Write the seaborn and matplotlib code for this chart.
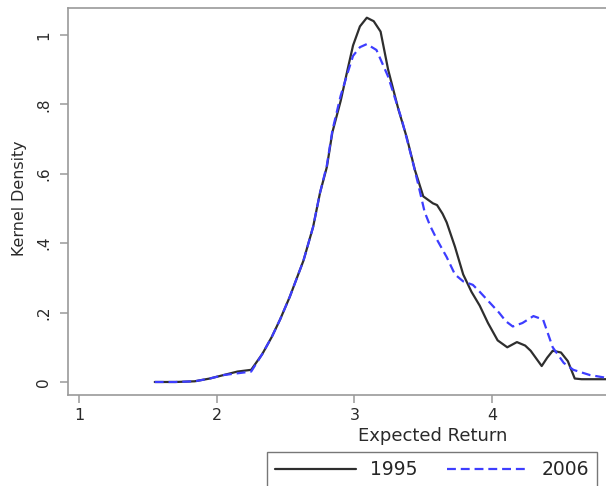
import matplotlib
matplotlib.use("Agg")
import matplotlib.pyplot as plt
from matplotlib.lines import Line2D
import seaborn as sns
import pandas as pd

# ---- data ----
x_1995 = [1.55, 1.70, 1.84, 1.95, 2.05, 2.15, 2.25, 2.33, 2.40, 2.46, 2.53, 2.63, 2.70, 2.75,
          2.80, 2.84, 2.90, 2.95, 2.99, 3.04, 3.09, 3.14, 3.19, 3.245, 3.32, 3.38, 3.44, 3.50,
          3.57, 3.60, 3.64, 3.67, 3.73, 3.79, 3.85, 3.91, 3.97, 4.04, 4.11, 4.18, 4.24, 4.28,
          4.36, 4.40, 4.44, 4.50, 4.55, 4.60, 4.65, 4.83]
y_1995 = [0.0, 0.0, 0.002, 0.01, 0.02, 0.03, 0.035, 0.08, 0.13, 0.18, 0.245, 0.35, 0.447, 0.545,
          0.62, 0.72, 0.81, 0.90, 0.97, 1.025, 1.05, 1.04, 1.01, 0.90, 0.785, 0.705, 0.61, 0.535,
          0.515, 0.51, 0.485, 0.46, 0.39, 0.31, 0.26, 0.22, 0.17, 0.12, 0.10, 0.115, 0.105, 0.09,
          0.046, 0.07, 0.09, 0.085, 0.06, 0.01, 0.008, 0.008]

x_2006 = [1.55, 1.70, 1.84, 1.95, 2.05, 2.15, 2.25, 2.33, 2.40, 2.46, 2.53, 2.63, 2.70, 2.75,
          2.80, 2.84, 2.90, 2.95, 2.99, 3.04, 3.09, 3.16, 3.245, 3.345, 3.42, 3.46, 3.51, 3.55,
          3.60, 3.67, 3.73, 3.79, 3.86, 3.91, 3.98, 4.05, 4.10, 4.15, 4.22, 4.30, 4.37, 4.44,
          4.52, 4.59, 4.71, 4.83]
y_2006 = [0.0, 0.0, 0.002, 0.01, 0.02, 0.025, 0.03, 0.08, 0.13, 0.18, 0.245, 0.35, 0.447, 0.545,
          0.625, 0.725, 0.825, 0.89, 0.94, 0.965, 0.974, 0.957, 0.88, 0.755, 0.64, 0.575, 0.49,
          0.45, 0.41, 0.36, 0.31, 0.29, 0.28, 0.26, 0.23, 0.20, 0.175, 0.16, 0.17, 0.19, 0.18,
          0.10, 0.055, 0.035, 0.02, 0.012]

series_names = ["1995", "2006"]
x_ticks = [1, 2, 3, 4]
y_ticks = [0, 0.2, 0.4, 0.6, 0.8, 1.0]
y_tick_labels = ["0", ".2", ".4", ".6", ".8", "1"]

df = pd.concat([
    pd.DataFrame({"x": x_1995, "y": y_1995, "year": series_names[0]}),
    pd.DataFrame({"x": x_2006, "y": y_2006, "year": series_names[1]}),
])

sns.set_style("white")
plt.rcParams["font.family"] = ["DejaVu Sans"]

W, H = 606, 486
fig = plt.figure(figsize=(W / 100, H / 100), dpi=100)
ax = fig.add_axes([68 / W, 1 - 395 / H, 1 - 68 / W, (395 - 8) / H])

black = "#2e2e2e"
blue = "#3d3dff"
sns.lineplot(data=df, x="x", y="y", hue="year", style="year",
             palette={"1995": black, "2006": blue},
             dashes={"1995": "", "2006": (4, 2.2)},
             linewidth=1.6, ax=ax, legend=False, sort=False)

ax.set_xlim(0.92, 4.827)
ax.set_ylim(-0.0375, 1.078)
ax.set_xticks(x_ticks)
ax.set_xticklabels([str(t) for t in x_ticks])
ax.set_yticks(y_ticks)
ax.set_yticklabels(y_tick_labels, rotation=90, va="center")

spine_col = "#9a9a9a"
for s in ["left", "bottom", "top"]:
    ax.spines[s].set_visible(True)
    ax.spines[s].set_color(spine_col)
    ax.spines[s].set_linewidth(1.2)
ax.spines["right"].set_visible(False)

txt_col = "#2a2a2a"
ax.tick_params(axis="both", which="major", direction="out", length=6, width=1.1,
               color=spine_col, labelcolor=txt_col, left=True, bottom=True)
ax.tick_params(axis="x", labelsize=11.5, pad=3)
ax.tick_params(axis="y", labelsize=11, pad=6)

ax.set_xlabel("Expected Return", fontsize=13, color=txt_col)
ax.set_ylabel("Kernel Density", fontsize=11.4, color=txt_col)
ax.xaxis.set_label_coords((433 - 68) / (W - 68), -(436 - 395) / (395 - 8))
ax.xaxis.label.set_va("center")
ax.yaxis.set_label_coords(-(68 - 20) / (W - 68), (395 - 198) / (395 - 8))
ax.yaxis.label.set_va("center")

handles = [Line2D([], [], color=black, lw=1.6),
           Line2D([], [], color=blue, lw=1.6, dashes=(4, 2.2))]
leg = fig.legend(handles, series_names, loc="upper left",
                 bbox_to_anchor=(267 / W, 1 - 452 / H), ncol=2, frameon=True,
                 fontsize=13.5, handlelength=4.27, columnspacing=1.6, borderpad=0.45,
                 handletextpad=0.75, fancybox=False, borderaxespad=0)
leg.get_frame().set_edgecolor("#555555")
leg.get_frame().set_linewidth(1.0)

fig.savefig("out.png", dpi=100)
